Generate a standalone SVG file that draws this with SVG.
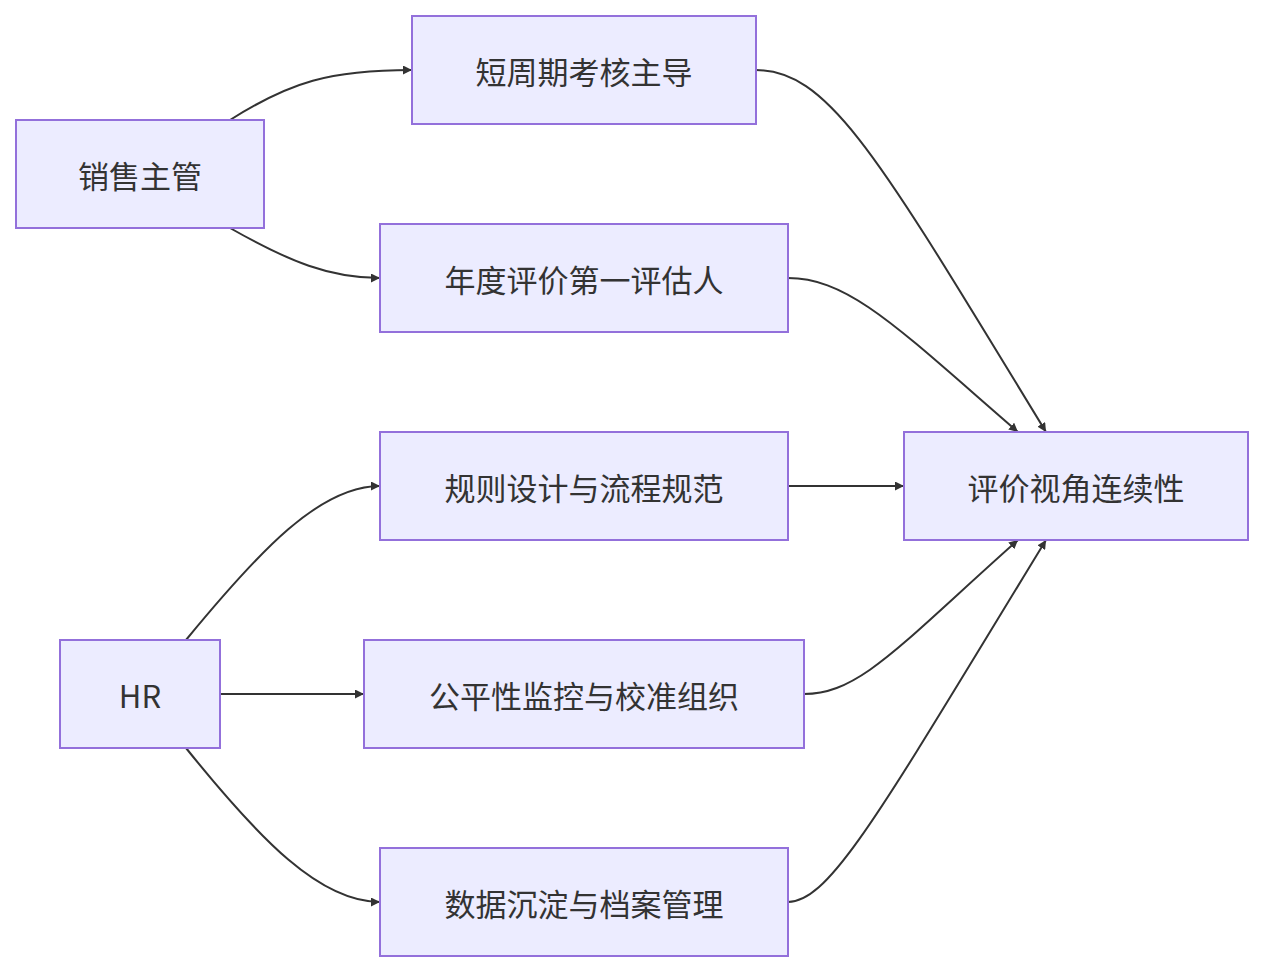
<svg xmlns="http://www.w3.org/2000/svg" width="1264" height="972" viewBox="0 0 1264 972">
<style>
.n rect{fill:#ECECFF;stroke:#9370DB;stroke-width:2}
.n text{font-family:"Noto Sans CJK SC","Noto Sans",sans-serif;font-size:31px;fill:#333;text-anchor:middle;dominant-baseline:central}
.e path{fill:none;stroke:#333;stroke-width:2;marker-end:url(#a)}
</style>
<defs><marker id="a" viewBox="0 0 10 10" refX="10" refY="5" markerWidth="9" markerHeight="9" markerUnits="userSpaceOnUse" orient="auto"><path d="M0,0L10,5L0,10z" fill="#333"/></marker></defs>
<rect width="1264" height="972" fill="#fff"/>
<g class="e">
<path d="M230,120 C290,82 330,70 412,70"/>
<path d="M230,228 C290,262 330,278 380,278"/>
<path d="M756,70 C830,70 880,160 1046,432"/>
<path d="M788,278 C850,278 900,330 1018,432"/>
<path d="M788,486 L904,486"/>
<path d="M804,694 C860,694 900,645 1018,540"/>
<path d="M788,902 C830,902 880,812 1046,540"/>
<path d="M186,640 C260,550 320,486 380,486"/>
<path d="M220,694 L364,694"/>
<path d="M186,748 C260,840 320,902 380,902"/>
</g>
<g class="n" id="n1"><rect x="16" y="120" width="248" height="108"/><text x="140" y="174">销售主管</text></g>
<g class="n" id="n2"><rect x="412" y="16" width="344" height="108"/><text x="584" y="70">短周期考核主导</text></g>
<g class="n" id="n3"><rect x="380" y="224" width="408" height="108"/><text x="584" y="278">年度评价第一评估人</text></g>
<g class="n" id="n4"><rect x="380" y="432" width="408" height="108"/><text x="584" y="486">规则设计与流程规范</text></g>
<g class="n" id="n5"><rect x="904" y="432" width="344" height="108"/><text x="1076" y="486">评价视角连续性</text></g>
<g class="n" id="n6"><rect x="60" y="640" width="160" height="108"/><text x="140" y="694">HR</text></g>
<g class="n" id="n7"><rect x="364" y="640" width="440" height="108"/><text x="584" y="694">公平性监控与校准组织</text></g>
<g class="n" id="n8"><rect x="380" y="848" width="408" height="108"/><text x="584" y="902">数据沉淀与档案管理</text></g>
</svg>
